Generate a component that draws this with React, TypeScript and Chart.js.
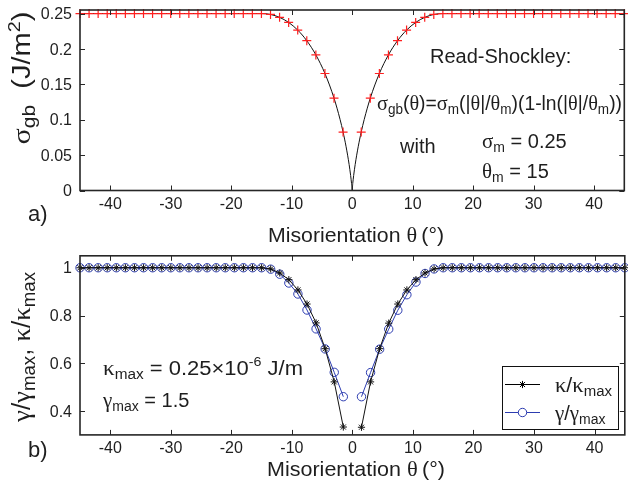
import React, { useEffect, useRef } from 'react';
import { Chart, registerables } from 'chart.js';

Chart.register(...registerables);

// ---------------- data ----------------
const THETA = [
  -45, -43.5, -42, -40.5, -39, -37.5, -36, -34.5, -33, -31.5, -30, -28.5, -27, -25.5, -24, -22.5,
  -21, -19.5, -18, -16.5, -15, -13.5, -12, -10.5, -9, -7.5, -6, -4.5, -3, -1.5, 0,
  1.5, 3, 4.5, 6, 7.5, 9, 10.5, 12, 13.5, 15, 16.5, 18, 19.5, 21, 22.5, 24, 25.5, 27, 28.5,
  30, 31.5, 33, 34.5, 36, 37.5, 39, 40.5, 42, 43.5, 45,
];

const SIGMA_MARKERS = [
  0.25, 0.25, 0.25, 0.25, 0.25, 0.25, 0.25, 0.25, 0.25, 0.25, 0.25, 0.25, 0.25, 0.25, 0.25, 0.25,
  0.25, 0.25, 0.25, 0.25, 0.25, 0.2487, 0.2446, 0.2374, 0.2266, 0.2116, 0.1916, 0.1653, 0.1305, 0.0826, null,
  0.0826, 0.1305, 0.1653, 0.1916, 0.2116, 0.2266, 0.2374, 0.2446, 0.2487, 0.25, 0.25, 0.25, 0.25, 0.25,
  0.25, 0.25, 0.25, 0.25, 0.25, 0.25, 0.25, 0.25, 0.25, 0.25, 0.25, 0.25, 0.25, 0.25, 0.25, 0.25,
];

const CURVE_THETA = [
  -45, -15, -13.5, -12, -10.5, -9, -7.5, -6, -4.5, -3, -2, -1.5, -1, -0.5, -0.25, -0.1, 0,
  0.1, 0.25, 0.5, 1, 1.5, 2, 3, 4.5, 6, 7.5, 9, 10.5, 12, 13.5, 15, 45,
];
const CURVE_SIGMA = [
  0.25, 0.25, 0.2487, 0.2446, 0.2374, 0.2266, 0.2116, 0.1916, 0.1653, 0.1305, 0.1005, 0.0826, 0.0618,
  0.0367, 0.0212, 0.01, 0, 0.01, 0.0212, 0.0367, 0.0618, 0.0826, 0.1005, 0.1305, 0.1653, 0.1916,
  0.2116, 0.2266, 0.2374, 0.2446, 0.2487, 0.25, 0.25,
];

const KAPPA = [
  1, 1, 1, 1, 1, 1, 1, 1, 1, 1, 1, 1, 1, 1, 1, 1, 1, 1, 1, 1, 1,
  0.995, 0.978, 0.95, 0.907, 0.848, 0.769, 0.661, 0.522, 0.333, null,
  0.332, 0.522, 0.661, 0.768, 0.848, 0.907, 0.95, 0.978, 0.995,
  1, 1, 1, 1, 1, 1, 1, 1, 1, 1, 1, 1, 1, 1, 1, 1, 1, 1, 1, 1, 1,
];
const GAMMA = [
  1, 1, 1, 1, 1, 1, 1, 1, 1, 1, 1, 1, 1, 1, 1, 1, 1, 1, 1, 1, 1,
  0.994, 0.973, 0.936, 0.89, 0.823, 0.744, 0.66, 0.562, 0.46, null,
  0.46, 0.561, 0.659, 0.743, 0.822, 0.887, 0.94, 0.976, 0.995,
  1, 1, 1, 1, 1, 1, 1, 1, 1, 1, 1, 1, 1, 1, 1, 1, 1, 1, 1, 1, 1,
];

const X_RANGE = [-45, 45];
const X_TICKS = [-40, -30, -20, -10, 0, 10, 20, 30, 40];
const X_TICK_LABELS = ['-40', '-30', '-20', '-10', '0', '10', '20', '30', '40'];

const TOP_Y_RANGE = [0, 0.255];
const TOP_Y_TICKS = [0, 0.05, 0.1, 0.15, 0.2, 0.25];
const TOP_Y_LABELS = ['0', '0.05', '0.1', '0.15', '0.2', '0.25'];

const BOT_Y_RANGE = [0.3, 1.05];
const BOT_Y_TICKS = [0.4, 0.6, 0.8, 1];
const BOT_Y_LABELS = ['0.4', '0.6', '0.8', '1'];

// ---------------- styles ----------------
const SANS = '"Liberation Sans", Arial, Helvetica, sans-serif';
const SERIF = '"Liberation Serif", "DejaVu Serif", serif';
const S = (n: number) => `${n}px ${SANS}`;
const G = (n: number) => `${n}px ${SERIF}`;
const TEXT = '#1e1e1e';
const AXIS = '#262626';
const RED = '#ff1f1f';
const BLUE = '#2c3cb0';

type Seg = { t: string; f: string; dy?: number };

function drawRich(
  ctx: CanvasRenderingContext2D,
  segs: Seg[],
  x: number,
  y: number,
  opts: { align?: 'left' | 'center'; rotate?: boolean; width?: number; color?: string } = {}
) {
  ctx.save();
  ctx.textAlign = 'left';
  ctx.textBaseline = 'alphabetic';
  ctx.fillStyle = opts.color || TEXT;
  let w = 0;
  for (const s of segs) {
    ctx.font = s.f;
    w += ctx.measureText(s.t).width;
  }
  ctx.translate(x, y);
  if (opts.rotate) ctx.rotate(-Math.PI / 2);
  if (opts.width) ctx.scale(opts.width / w, 1);
  let cx = opts.align === 'center' ? -w / 2 : 0;
  for (const s of segs) {
    ctx.font = s.f;
    ctx.fillText(s.t, cx, s.dy || 0);
    cx += ctx.measureText(s.t).width;
  }
  ctx.restore();
}

function drawFrame(chart: any, yTicks: number[], yLabels: string[]) {
  const ctx: CanvasRenderingContext2D = chart.ctx;
  const { left: L, right: R, top: T, bottom: B } = chart.chartArea;
  const xs = chart.scales.x;
  const ys = chart.scales.y;
  ctx.save();
  ctx.strokeStyle = AXIS;
  ctx.lineWidth = 1.6;
  ctx.strokeRect(L, T, R - L, B - T);
  ctx.lineWidth = 1;
  ctx.beginPath();
  X_TICKS.forEach((v) => {
    const px = Math.round(xs.getPixelForValue(v)) + 0.5;
    ctx.moveTo(px, B);
    ctx.lineTo(px, B - 5);
    ctx.moveTo(px, T);
    ctx.lineTo(px, T + 5);
  });
  yTicks.forEach((v) => {
    const py = Math.round(ys.getPixelForValue(v)) + 0.5;
    ctx.moveTo(L, py);
    ctx.lineTo(L + 5, py);
    ctx.moveTo(R, py);
    ctx.lineTo(R - 5, py);
  });
  ctx.stroke();
  ctx.fillStyle = TEXT;
  ctx.font = S(16);
  ctx.textBaseline = 'alphabetic';
  ctx.textAlign = 'center';
  X_TICKS.forEach((v, i) => {
    ctx.fillText(X_TICK_LABELS[i], xs.getPixelForValue(v), B + 18.5);
  });
  ctx.textAlign = 'right';
  yTicks.forEach((v, i) => {
    ctx.fillText(yLabels[i], L - 8, ys.getPixelForValue(v) + 5.7);
  });
  ctx.restore();
}

const xTitle = (): Seg[] => [
  { t: 'Misorientation ', f: S(21) },
  { t: 'θ', f: G(22) },
  { t: '\u2009(°)', f: S(21) },
];

const topPlugin = {
  id: 'topDecor',
  afterDraw(chart: any) {
    const ctx: CanvasRenderingContext2D = chart.ctx;
    drawFrame(chart, TOP_Y_TICKS, TOP_Y_LABELS);
    drawRich(ctx, xTitle(), 356, 242, { align: 'center', width: 176 });
    drawRich(ctx, [{ t: 'a)', f: S(22) }], 28, 221);
    drawRich(
      ctx,
      [
        { t: 'σ', f: G(26) },
        { t: 'gb', f: S(18), dy: 5 },
        { t: '  (J/m', f: S(25) },
        { t: '2', f: S(17), dy: -10 },
        { t: ')', f: S(25) },
      ],
      30,
      78,
      { align: 'center', rotate: true, width: 133 }
    );
    drawRich(ctx, [{ t: 'Read-Shockley:', f: S(20) }], 430, 63);
    const sub = S(14);
    const m = S(20);
    const g = G(21);
    drawRich(
      ctx,
      [
        { t: 'σ', f: g },
        { t: 'gb', f: sub, dy: 4 },
        { t: '(', f: m },
        { t: 'θ', f: g },
        { t: ')=', f: m },
        { t: 'σ', f: g },
        { t: 'm', f: sub, dy: 4 },
        { t: '(|', f: m },
        { t: 'θ', f: g },
        { t: '|/', f: m },
        { t: 'θ', f: g },
        { t: 'm', f: sub, dy: 4 },
        { t: ')(1-ln(|', f: m },
        { t: 'θ', f: g },
        { t: '|/', f: m },
        { t: 'θ', f: g },
        { t: 'm', f: sub, dy: 4 },
        { t: '))', f: m },
      ],
      377,
      110,
      { width: 245 }
    );
    drawRich(ctx, [{ t: 'with', f: S(20) }], 400, 153);
    drawRich(
      ctx,
      [
        { t: 'σ', f: g },
        { t: 'm', f: sub, dy: 4 },
        { t: ' = 0.25', f: m },
      ],
      482,
      148
    );
    drawRich(
      ctx,
      [
        { t: 'θ', f: g },
        { t: 'm', f: sub, dy: 4 },
        { t: ' = 15', f: m },
      ],
      482,
      178
    );
  },
};

function drawStar(ctx: CanvasRenderingContext2D, x: number, y: number, r: number) {
  ctx.beginPath();
  ctx.moveTo(x - r, y);
  ctx.lineTo(x + r, y);
  ctx.moveTo(x, y - r);
  ctx.lineTo(x, y + r);
  const d = r * Math.SQRT1_2;
  ctx.moveTo(x - d, y - d);
  ctx.lineTo(x + d, y + d);
  ctx.moveTo(x - d, y + d);
  ctx.lineTo(x + d, y - d);
  ctx.stroke();
}

const botPlugin = {
  id: 'botDecor',
  afterDraw(chart: any) {
    const ctx: CanvasRenderingContext2D = chart.ctx;
    drawFrame(chart, BOT_Y_TICKS, BOT_Y_LABELS);
    drawRich(ctx, xTitle(), 356, 476, { align: 'center', width: 178 });
    drawRich(ctx, [{ t: 'b)', f: S(22) }], 28, 457);
    const sub = S(14);
    const m = S(20);
    const g = G(21);
    drawRich(
      ctx,
      [
        { t: 'γ', f: G(26) },
        { t: '/', f: S(25) },
        { t: 'γ', f: G(26) },
        { t: 'max', f: S(18), dy: 5 },
        { t: ', ', f: S(25) },
        { t: 'κ', f: G(26) },
        { t: '/', f: S(25) },
        { t: 'κ', f: G(26) },
        { t: 'max', f: S(18), dy: 5 },
      ],
      30,
      347,
      { align: 'center', rotate: true, width: 150 }
    );
    drawRich(
      ctx,
      [
        { t: 'κ', f: g },
        { t: 'max', f: sub, dy: 4 },
        { t: ' = 0.25×10', f: m },
        { t: '-6', f: S(13), dy: -9 },
        { t: ' J/m', f: m },
      ],
      103,
      375,
      { width: 200 }
    );
    drawRich(
      ctx,
      [
        { t: 'γ', f: g },
        { t: 'max', f: sub, dy: 4 },
        { t: ' = 1.5', f: m },
      ],
      103,
      407
    );
    // legend
    ctx.save();
    ctx.fillStyle = '#fff';
    ctx.fillRect(502, 366, 116, 63);
    ctx.strokeStyle = '#111';
    ctx.lineWidth = 1;
    ctx.strokeRect(502.5, 366.5, 116, 63);
    ctx.strokeStyle = '#000';
    ctx.beginPath();
    ctx.moveTo(505, 384.5);
    ctx.lineTo(540, 384.5);
    ctx.stroke();
    drawStar(ctx, 522.5, 384.5, 3.6);
    ctx.strokeStyle = BLUE;
    ctx.beginPath();
    ctx.moveTo(505, 412.5);
    ctx.lineTo(540, 412.5);
    ctx.stroke();
    ctx.fillStyle = '#fff';
    ctx.beginPath();
    ctx.arc(522.5, 412.5, 4.2, 0, Math.PI * 2);
    ctx.fill();
    ctx.stroke();
    ctx.restore();
    drawRich(
      ctx,
      [
        { t: 'κ', f: g },
        { t: '/', f: m },
        { t: 'κ', f: g },
        { t: 'max', f: sub, dy: 4 },
      ],
      555,
      392,
      { width: 57 }
    );
    drawRich(
      ctx,
      [
        { t: 'γ', f: g },
        { t: '/', f: m },
        { t: 'γ', f: g },
        { t: 'max', f: sub, dy: 4 },
      ],
      555,
      420
    );
  },
};

const W = 630;
const H = 483;

function baseOptions(padding: any, yRange: number[]) {
  return {
    animation: false as const,
    responsive: false,
    events: [] as any[],
    layout: { padding },
    plugins: { legend: { display: false }, tooltip: { enabled: false } },
    scales: {
      x: { type: 'linear' as const, min: X_RANGE[0], max: X_RANGE[1], display: false },
      y: { type: 'linear' as const, min: yRange[0], max: yRange[1], display: false },
    },
  };
}

export default function App() {
  const topRef = useRef<HTMLCanvasElement>(null);
  const botRef = useRef<HTMLCanvasElement>(null);

  useEffect(() => {
    const top = new Chart(topRef.current as HTMLCanvasElement, {
      type: 'line',
      data: {
        datasets: [
          {
            data: THETA.map((t, i) => ({ x: t, y: SIGMA_MARKERS[i] })),
            showLine: false,
            pointStyle: 'cross',
            pointRadius: 4.5,
            pointBorderWidth: 1.2,
            pointBorderColor: RED,
            borderColor: RED,
            clip: false,
          } as any,
          {
            data: CURVE_THETA.map((t, i) => ({ x: t, y: CURVE_SIGMA[i] })),
            borderColor: '#111',
            borderWidth: 1,
            pointRadius: 0,
            cubicInterpolationMode: 'monotone',
            clip: false,
          } as any,
        ],
      },
      options: baseOptions({ left: 80, top: 10, right: 0.4, bottom: 292.5 }, TOP_Y_RANGE) as any,
      plugins: [topPlugin],
    });

    const bot = new Chart(botRef.current as HTMLCanvasElement, {
      type: 'line',
      data: {
        datasets: [
          {
            data: THETA.map((t, i) => ({ x: t, y: KAPPA[i] })),
            borderColor: '#111',
            borderWidth: 1,
            pointStyle: 'star',
            pointRadius: 3.6,
            pointBorderWidth: 1,
            pointBorderColor: '#111',
            spanGaps: false,
            clip: false,
          } as any,
          {
            data: THETA.map((t, i) => ({ x: t, y: GAMMA[i] })),
            borderColor: BLUE,
            borderWidth: 1,
            pointStyle: 'circle',
            pointRadius: 4.2,
            pointBorderWidth: 1,
            pointBorderColor: BLUE,
            pointBackgroundColor: 'rgba(0,0,0,0)',
            spanGaps: false,
            clip: false,
          } as any,
        ],
      },
      options: baseOptions({ left: 80, top: 255.8, right: 0.4, bottom: 48.1 }, BOT_Y_RANGE) as any,
      plugins: [botPlugin],
    });

    return () => {
      top.destroy();
      bot.destroy();
    };
  }, []);

  return (
    <div
      style={{
        position: 'absolute',
        left: 0,
        top: 0,
        width: 628,
        height: 483,
        overflow: 'hidden',
        background: '#fff',
      }}
    >
      <canvas ref={botRef} width={W} height={H} style={{ position: 'absolute', left: 0, top: 0 }} />
      <canvas ref={topRef} width={W} height={H} style={{ position: 'absolute', left: 0, top: 0 }} />
    </div>
  );
}
